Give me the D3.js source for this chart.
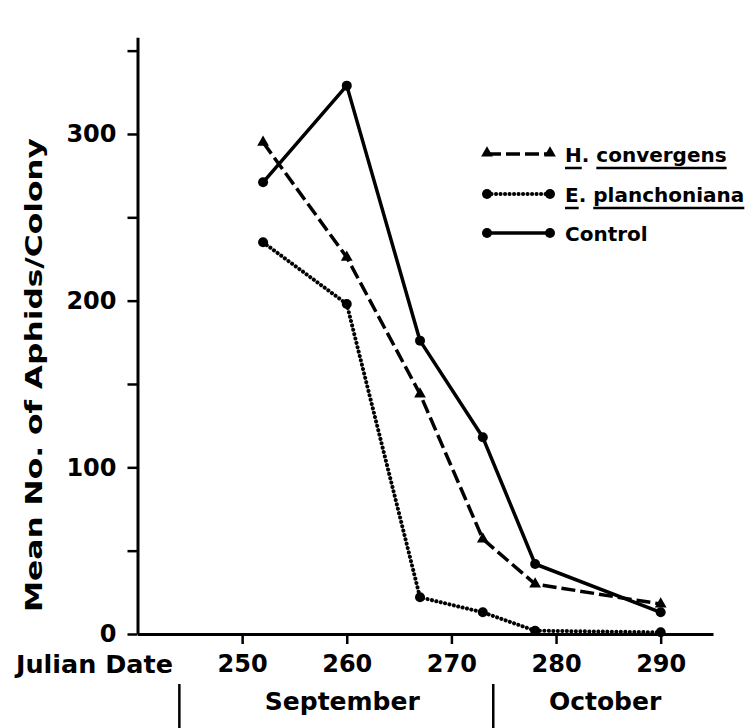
<!DOCTYPE html>
<html lang="en">
  <head>
    <meta charset="utf-8">
    <title>Mean No. of Aphids/Colony</title>
    <script src="https://cdn.jsdelivr.net/npm/d3@7"></script>
    <style>
      body { margin: 0; background: #fff; }
      text { font-family: "DejaVu Sans", sans-serif; font-weight: bold; fill: #000; }
    </style>
  </head>
  <body>
    <script>

      // data
      var dates = [252, 260, 267, 273, 278, 290];
      var convergens = [295, 226, 144, 57, 30, 18];
      var planchoniana = [235, 198, 22, 13, 2, 1];
      var control = [271, 329, 176, 118, 42, 13];
      var seriesNames = ["H. convergens", "E. planchoniana", "Control"];
      var yMajor = [0, 100, 200, 300];
      var yMinor = [50, 150, 250, 350];
      var xTicks = [250, 260, 270, 280, 290];
      var months = ["September", "October"];
      var monthStarts = [244, 274];

      var W = 748, H = 728;
      var svg = d3.select("body").append("svg")
                  .attr("width", W)
                  .attr("height", H);

      var x = d3.scaleLinear().domain([240, 295]).range([137.5, 713]);
      var y = d3.scaleLinear().domain([0, 358]).range([634, 37.3]);

      // y axis
      var yAxis = svg.append("g")
          .attr("transform", "translate(" + x(240) + ",0)")
          .call(d3.axisLeft(y)
            .tickValues(yMajor.concat(yMinor))
            .tickFormat(function(d) { return yMajor.indexOf(d) >= 0 ? d : ""; })
            .tickSize(10).tickSizeOuter(0).tickPadding(11));
      yAxis.select(".domain").attr("stroke-width", 3);
      yAxis.selectAll(".tick line").attr("stroke-width", 2.5);
      yAxis.selectAll(".tick text").attr("font-size", 24).attr("font-family", "DejaVu Sans").attr("font-weight", "bold");

      // x axis
      var xAxis = svg.append("g")
          .attr("transform", "translate(0," + y(0) + ")")
          .call(d3.axisBottom(x)
            .tickValues(xTicks)
            .tickSize(10).tickSizeOuter(0).tickPadding(11));
      xAxis.select(".domain").attr("stroke-width", 3);
      xAxis.selectAll(".tick line").attr("stroke-width", 2.5);
      xAxis.selectAll(".tick text").attr("font-size", 24).attr("font-family", "DejaVu Sans").attr("font-weight", "bold");

      svg.append("text")
         .attr("x", 16).attr("y", 673)
         .attr("font-size", 24)
         .attr("textLength", 157).attr("lengthAdjust", "spacingAndGlyphs")
         .text("Julian Date");

      // month row
      svg.selectAll(".msep")
         .data(monthStarts)
         .enter().append("line")
         .attr("x1", function(d) { return x(d); })
         .attr("x2", function(d) { return x(d); })
         .attr("y1", 684).attr("y2", H)
         .attr("stroke", "#000").attr("stroke-width", 2.5);

      svg.selectAll(".mlab")
         .data(months)
         .enter().append("text")
         .attr("x", function(d, i) {
           var end = i + 1 < monthStarts.length ? monthStarts[i + 1] : 295;
           return x((monthStarts[i] + end) / 2) + (i === 0 ? 6 : 2);
         })
         .attr("y", 710)
         .attr("text-anchor", "middle")
         .attr("font-size", 25)
         .text(function(d) { return d; });

      // y title
      svg.append("text")
         .attr("transform", "translate(42,375) rotate(-90)")
         .attr("text-anchor", "middle")
         .attr("font-size", 23)
         .attr("textLength", 474).attr("lengthAdjust", "spacingAndGlyphs")
         .text("Mean No. of Aphids/Colony");

      // series
      var data = [convergens, planchoniana, control];
      var dashes = ["14,5", "0.1,4.4", null];
      var widths = [3.5, 4, 3.5];
      var line = d3.line()
          .x(function(d, i) { return x(dates[i]); })
          .y(function(d) { return y(d); });

      var tri = d3.symbol().type(d3.symbolTriangle).size(60);

      data.forEach(function(vals, s) {
        svg.append("path")
           .attr("d", line(vals))
           .attr("fill", "none")
           .attr("stroke", "#000")
           .attr("stroke-width", widths[s])
           .attr("stroke-linecap", s === 1 ? "round" : "butt")
           .attr("stroke-linejoin", "round")
           .attr("stroke-dasharray", dashes[s]);

        if (s === 0) {
          svg.selectAll(".m" + s)
             .data(vals)
             .enter().append("path")
             .attr("d", tri)
             .attr("transform", function(d, i) { return "translate(" + x(dates[i]) + "," + y(d) + ")"; })
             .attr("fill", "#000");
        } else {
          svg.selectAll(".m" + s)
             .data(vals)
             .enter().append("circle")
             .attr("cx", function(d, i) { return x(dates[i]); })
             .attr("cy", function(d) { return y(d); })
             .attr("r", 5)
             .attr("fill", "#000");
        }
      });

      // legend
      var lg = svg.append("g");
      var rowY = [154, 194, 233];
      seriesNames.forEach(function(name, s) {
        var ly = rowY[s];
        lg.append("line")
          .attr("x1", 487).attr("x2", 550)
          .attr("y1", ly).attr("y2", ly)
          .attr("stroke", "#000").attr("stroke-width", widths[s])
          .attr("stroke-linecap", s === 1 ? "round" : "butt")
          .attr("stroke-dasharray", dashes[s]);
        [487, 550].forEach(function(px) {
          if (s === 0) {
            lg.append("path").attr("d", tri)
              .attr("transform", "translate(" + px + "," + (ly - 1) + ")")
              .attr("fill", "#000");
          } else {
            lg.append("circle").attr("cx", px).attr("cy", ly).attr("r", 5).attr("fill", "#000");
          }
        });

        var parts = name.indexOf(". ") > 0 ? [name.slice(0, 1), ". ", name.slice(3)] : [name];
        var cx = 565;
        parts.forEach(function(p, k) {
          var t = lg.append("text")
            .attr("x", cx).attr("y", ly + 7.5)
            .attr("font-size", 20)
            .attr("xml:space", "preserve")
            .text(p);
          var w = t.node().getComputedTextLength();
          if (parts.length > 1 && k !== 1) {
            lg.append("line")
              .attr("x1", cx).attr("x2", cx + w)
              .attr("y1", ly + 14).attr("y2", ly + 14)
              .attr("stroke", "#000").attr("stroke-width", 2.5);
          }
          cx += w;
        });
      });

    </script>
  </body>
</html>
